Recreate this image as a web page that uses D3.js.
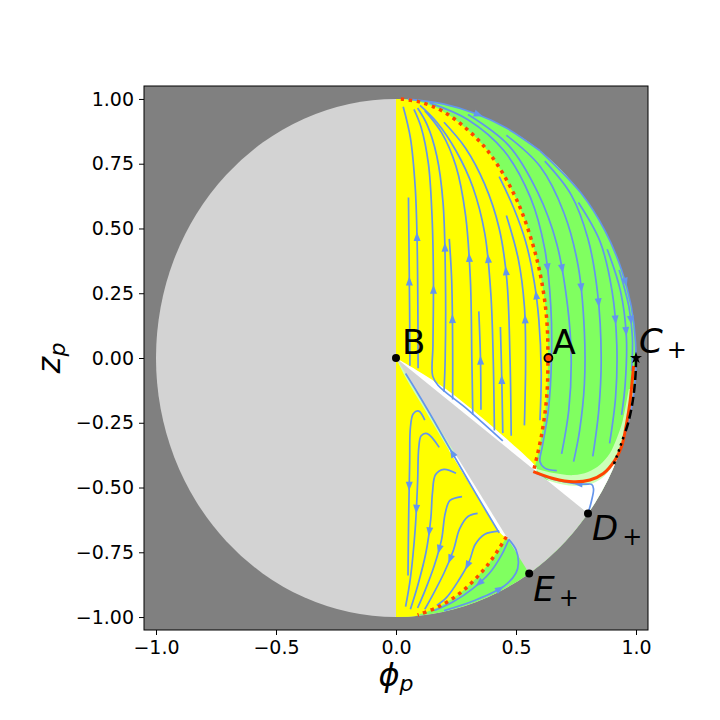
<!DOCTYPE html>
<html>
<head>
<meta charset="utf-8">
<script src="https://cdn.jsdelivr.net/npm/d3@7"></script>
<style>
  body { margin: 0; background: #fff; }
  svg { display: block; font-family: "DejaVu Sans", sans-serif; }
</style>
</head>
<body>
<svg id="chart" width="720" height="720"></svg>
<script>
// ---- data (phi_p, z_p) ----
var xTicks = [-1.0, -0.5, 0.0, 0.5, 1.0];
var yTicks = [-1.0, -0.75, -0.5, -0.25, 0.0, 0.25, 0.5, 0.75, 1.0];

var pointNames = ["B", "A", "C", "D", "E"];
var pointSubs = ["", "", "+", "+", "+"];
var pointPhi = [0.0, 0.635, 1.0, 0.8, 0.555];
var pointZ = [0.0, 0.0, 0.0, -0.6, -0.832];

// separatrix through A (red dotted), upper and lower visible parts
var sepUpper = [[0.02, 1.0], [0.1, 0.988], [0.2, 0.95], [0.334, 0.85], [0.42, 0.75], [0.508, 0.6],
  [0.572, 0.432], [0.606, 0.3], [0.628, 0.15], [0.633, 0.0], [0.628, -0.15], [0.606, -0.3], [0.572, -0.44]];
var sepLower = [[0.46, -0.69], [0.381, -0.8], [0.277, -0.9], [0.178, -0.96], [0.09, -0.992]];

// orbit from C+ (solid red) and the black dashed / dotted curves
var redOrbit = [[0.99, -0.03], [0.985, -0.08], [0.975, -0.17], [0.961, -0.252], [0.94, -0.342],
  [0.9125, -0.394], [0.864, -0.446], [0.808, -0.471], [0.739, -0.478], [0.655, -0.465], [0.572, -0.439]];
var blackDashed = [[1.0, 0.0], [0.999, -0.05], [0.993, -0.12], [0.982, -0.19], [0.966, -0.255], [0.952, -0.295]];
var blackDotted = [[0.948, -0.305], [0.935, -0.34], [0.92, -0.38], [0.906, -0.415]];

// region borders
var lightBandTop = [[0.575, -0.425], [0.65, -0.443], [0.74, -0.452], [0.8, -0.44], [0.85, -0.412],
  [0.89, -0.37], [0.92, -0.31], [0.945, -0.24], [0.97, -0.12]];
var whiteTop = [[0.57, -0.447], [0.65, -0.478], [0.72, -0.492], [0.8, -0.49], [0.86, -0.462],
  [0.9, -0.42], [0.93, -0.37], [0.96, -0.3]];
var upperSliver = [[0, 0], [0.083, -0.045], [0.208, -0.12], [0.347, -0.222], [0.458, -0.31],
  [0.556, -0.392], [0.585, -0.422]];
var lowerSliver = [[0, 0], [0.04, -0.075], [0.12, -0.2], [0.22, -0.355], [0.33, -0.52], [0.44, -0.68], [0.47, -0.7]];

// streamlines, points listed in flow direction
var streamsYellowUp = [
  [[0.058, -0.03], [0.057, 0.15], [0.055, 0.35], [0.052, 0.62]],
  [[0.092, -0.04], [0.091, 0.2], [0.088, 0.45], [0.08, 0.66], [0.06, 0.85], [0.03, 0.97]],
  [[0.445, -0.32], [0.3, -0.2], [0.175, -0.105], [0.153, -0.07], [0.154, 0.05], [0.156, 0.3],
    [0.15, 0.55], [0.135, 0.75], [0.105, 0.89], [0.075, 0.96]],
  [[0.2, -0.13], [0.205, 0.0], [0.206, 0.3], [0.196, 0.6], [0.17, 0.78], [0.13, 0.9], [0.09, 0.965]],
  [[0.236, -0.16], [0.236, 0.05], [0.232, 0.3], [0.222, 0.46]],
  [[0.32, -0.22], [0.316, 0.0], [0.31, 0.3], [0.29, 0.55], [0.25, 0.74], [0.19, 0.87], [0.12, 0.955]],
  [[0.354, -0.2], [0.352, 0.0], [0.345, 0.18]],
  [[0.41, -0.28], [0.405, 0.0], [0.395, 0.25], [0.37, 0.48], [0.32, 0.66], [0.25, 0.8], [0.17, 0.91], [0.1, 0.975]],
  [[0.445, -0.29], [0.44, -0.05], [0.435, 0.12]],
  [[0.48, -0.3], [0.475, 0.0], [0.462, 0.3], [0.43, 0.5], [0.37, 0.67], [0.29, 0.81], [0.2, 0.91]],
  [[0.535, -0.26], [0.54, 0.0], [0.535, 0.2], [0.51, 0.38], [0.46, 0.55]],
  [[0.6, -0.24], [0.605, -0.05], [0.595, 0.15], [0.575, 0.3], [0.54, 0.45], [0.49, 0.58], [0.43, 0.7]]
];
var streamsGreenDown = [
  [[0.05, 0.999], [0.2, 0.98], [0.33, 0.944], [0.46, 0.888], [0.6, 0.8]],
  [[0.6, 0.8], [0.77, 0.638], [0.87, 0.493], [0.94, 0.34], [0.98, 0.2], [0.998, 0.06], [0.995, -0.1],
    [0.975, -0.22], [0.95, -0.31]],
  [[0.14, 0.985], [0.3, 0.92], [0.45, 0.8], [0.56, 0.62], [0.62, 0.42], [0.645, 0.2], [0.648, 0.0],
    [0.635, -0.2], [0.61, -0.34], [0.6, -0.4], [0.62, -0.425], [0.67, -0.435]],
  [[0.3, 0.94], [0.47, 0.82], [0.59, 0.64], [0.67, 0.44], [0.715, 0.2], [0.73, 0.0], [0.72, -0.2], [0.69, -0.37]],
  [[0.46, 0.86], [0.6, 0.74], [0.7, 0.56], [0.76, 0.35], [0.785, 0.1], [0.785, -0.1], [0.765, -0.28], [0.74, -0.4]],
  [[0.62, 0.76], [0.73, 0.63], [0.8, 0.46], [0.84, 0.25], [0.855, 0.0], [0.845, -0.2], [0.82, -0.38]],
  [[0.76, 0.6], [0.85, 0.45], [0.9, 0.26], [0.92, 0.05], [0.915, -0.15], [0.89, -0.33]],
  [[0.88, 0.42], [0.935, 0.26], [0.96, 0.08], [0.955, -0.1], [0.94, -0.22]],
  [[0.93, 0.34], [0.97, 0.2], [0.985, 0.08], [0.982, -0.05]],
  [[0.8, -0.6], [0.815, -0.55], [0.823, -0.505], [0.815, -0.488], [0.79, -0.487], [0.74, -0.484],
    [0.68, -0.474], [0.62, -0.458], [0.585, -0.445]]
];
var streamsLower = [
  [[0.12, -0.24], [0.095, -0.205], [0.072, -0.215], [0.06, -0.27], [0.057, -0.4], [0.053, -0.6], [0.05, -0.84]],
  [[0.18, -0.345], [0.13, -0.292], [0.105, -0.3], [0.095, -0.345], [0.09, -0.48], [0.08, -0.66], [0.06, -0.85], [0.04, -0.96]],
  [[0.25, -0.445], [0.2, -0.43], [0.165, -0.45], [0.152, -0.52], [0.145, -0.62], [0.125, -0.75], [0.09, -0.88], [0.06, -0.97]],
  [[0.275, -0.535], [0.225, -0.55], [0.205, -0.6], [0.19, -0.7], [0.16, -0.8], [0.12, -0.9], [0.09, -0.965]],
  [[0.34, -0.6], [0.3, -0.612], [0.265, -0.66], [0.24, -0.74], [0.2, -0.83], [0.15, -0.92], [0.12, -0.97]],
  [[0.43, -0.668], [0.37, -0.68], [0.33, -0.72], [0.305, -0.786], [0.26, -0.86], [0.21, -0.925], [0.17, -0.955]],
  [[0.43, -0.675], [0.34, -0.535], [0.246, -0.385], [0.16, -0.245], [0.09, -0.135], [0.04, -0.06]],
  [[0.47, -0.7], [0.44, -0.76], [0.39, -0.83], [0.32, -0.89], [0.24, -0.94], [0.16, -0.975]],
  [[0.2, -0.975], [0.33, -0.935], [0.451, -0.88], [0.5, -0.83], [0.51, -0.79], [0.5, -0.74], [0.47, -0.7]]
];

// ---- colours ----
var colDark = "#808080", colLight = "#d3d3d3", colYellow = "#ffff00", colGreen = "#80ff60",
  colPale = "#ccffb8", colStream = "#6495ed", colRed = "#ff4500";

var svg = d3.select("#chart");
var x = d3.scaleLinear().domain([-1.05, 1.05]).range([144, 648]);
var y = d3.scaleLinear().domain([-1.05, 1.05]).range([630, 86]);
var rx = x(1) - x(0), ry = y(0) - y(1);

var line = d3.line()
  .x(function(d) { return x(d[0]); })
  .y(function(d) { return y(d[1]); })
  .curve(d3.curveCatmullRom.alpha(0.5));

function xy(p, q) { return x(p) + "," + y(q); }

var halfDisk = "M" + xy(0, 1) + "A" + rx + "," + ry + " 0 0 1 " + xy(0, -1) + "Z";

svg.append("defs").append("clipPath").attr("id", "rightDisk")
  .append("path").attr("d", halfDisk);

// background
svg.append("rect").attr("x", 144).attr("y", 86).attr("width", 504).attr("height", 544).attr("fill", colDark);
svg.append("ellipse").attr("cx", x(0)).attr("cy", y(0)).attr("rx", rx).attr("ry", ry).attr("fill", colLight);

var regions = svg.append("g").attr("clip-path", "url(#rightDisk)");
regions.append("path").attr("d", halfDisk).attr("fill", colGreen);

var sepAll = sepUpper.concat(sepLower);
regions.append("path")
  .attr("d", "M" + xy(0, 1.05) + "L" + line(sepAll).slice(1) + "L" + xy(0, -1.05) + "Z")
  .attr("fill", colYellow);

var D = [pointPhi[3], pointZ[3]], E = [pointPhi[4], pointZ[4]];
var lastB = lightBandTop[lightBandTop.length - 1], lastW = whiteTop[whiteTop.length - 1];
regions.append("path")
  .attr("d", line(lightBandTop) + "L" + xy(1.2, lastB[1]) + "L" + xy(1.2, -1.2) + "L" + xy(D[0], D[1]) + "Z")
  .attr("fill", colPale);
regions.append("path")
  .attr("d", line(whiteTop) + "L" + xy(1.2, lastW[1]) + "L" + xy(1.2, -1.2) + "L" + xy(D[0], D[1]) + "Z")
  .attr("fill", "#ffffff");

// thin slivers along the edges of the wedge
regions.append("path")
  .attr("d", line(upperSliver) + "L" + xy(0.59, -0.5) + "Z").attr("fill", "#ffffff");
regions.append("path")
  .attr("d", line(lowerSliver) + "L" + xy(0.6, -0.7) + "Z").attr("fill", colPale);
regions.append("path")
  .attr("d", line(lowerSliver.slice(3)) + "L" + xy(0.6, -0.7) + "L" + xy(0.3, -0.4) + "Z").attr("fill", "#ffffff");

// excluded wedge between B, D+ and E+
regions.append("path")
  .attr("d", "M" + xy(0, 0) + "L" + xy(D[0], D[1]) + "A" + rx + "," + ry + " 0 0 1 " + xy(E[0], E[1]) + "Z")
  .attr("fill", colLight);

// streamlines with mid arrows
var streams = svg.append("g");
var allStreams = streamsYellowUp.concat(streamsGreenDown, streamsLower);
allStreams.forEach(function(s) {
  var p = streams.append("path").attr("d", line(s))
    .attr("fill", "none").attr("stroke", colStream).attr("stroke-width", 1.7);
  var node = p.node(), L = node.getTotalLength();
  var a = node.getPointAtLength(L * 0.5), b = node.getPointAtLength(Math.max(0, L * 0.5 - 2));
  var ang = Math.atan2(a.y - b.y, a.x - b.x) * 180 / Math.PI;
  streams.append("path").attr("d", "M5,0L-4,-3.5L-4,3.5Z")
    .attr("transform", "translate(" + a.x + "," + a.y + ") rotate(" + ang + ")")
    .attr("fill", colStream);
});

// separatrix, orbits
[sepUpper, sepLower].forEach(function(s) {
  svg.append("path").attr("d", line(s)).attr("fill", "none")
    .attr("stroke", colRed).attr("stroke-width", 3.5).attr("stroke-dasharray", "3.5,4.5");
});
svg.append("path").attr("d", line(redOrbit)).attr("fill", "none")
  .attr("stroke", colRed).attr("stroke-width", 3);
svg.append("path").attr("d", line(blackDashed)).attr("fill", "none")
  .attr("stroke", "#000").attr("stroke-width", 2.5).attr("stroke-dasharray", "9,4");
svg.append("path").attr("d", line(blackDotted)).attr("fill", "none")
  .attr("stroke", "#000").attr("stroke-width", 2.5).attr("stroke-dasharray", "2.5,4");

// fixed points
var labelOffset = { B: [6, -4], A: [4, -4], C: [3, -5], D: [4, 27], E: [4, 27] };
pointNames.forEach(function(n, i) {
  var px = x(pointPhi[i]), py = y(pointZ[i]);
  if (n === "A") {
    svg.append("circle").attr("cx", px).attr("cy", py).attr("r", 4)
      .attr("fill", colRed).attr("stroke", "#000").attr("stroke-width", 1.8);
  } else if (n === "C") {
    svg.append("path").attr("d", d3.symbol().type(d3.symbolStar).size(45))
      .attr("transform", "translate(" + px + "," + py + ")").attr("fill", "#000");
  } else {
    svg.append("circle").attr("cx", px).attr("cy", py).attr("r", 4).attr("fill", "#000");
  }
  var off = labelOffset[n];
  var t = svg.append("text").attr("x", px + off[0]).attr("y", py + off[1])
    .attr("font-size", 34).attr("fill", "#000");
  t.append("tspan").attr("font-style", pointSubs[i] ? "italic" : "normal").text(n);
  if (pointSubs[i]) {
    t.append("tspan").attr("font-size", 24).attr("dx", 4).attr("dy", 5).text(pointSubs[i]);
  }
});

// axes
svg.append("rect").attr("x", 144).attr("y", 86).attr("width", 504).attr("height", 544)
  .attr("fill", "none").attr("stroke", "#000").attr("stroke-width", 1);

var fmtMinus = function(s) { return s.replace("-", "\u2212"); };
var xAxis = svg.append("g").attr("transform", "translate(0,630)")
  .call(d3.axisBottom(x).tickValues(xTicks).tickSize(5).tickPadding(6)
    .tickFormat(function(d) { return fmtMinus(d3.format(".1f")(d)); }));
var yAxis = svg.append("g").attr("transform", "translate(144,0)")
  .call(d3.axisLeft(y).tickValues(yTicks).tickSize(5).tickPadding(5)
    .tickFormat(function(d) { return fmtMinus(d3.format(".2f")(d)); }));
[xAxis, yAxis].forEach(function(ax) {
  ax.select(".domain").remove();
  ax.selectAll("text").attr("font-size", 19).attr("font-family", "DejaVu Sans").attr("fill", "#000");
  ax.selectAll("line").attr("stroke", "#000");
});

var xl = svg.append("text").attr("x", 396).attr("y", 686).attr("text-anchor", "middle")
  .attr("font-size", 32).attr("fill", "#000");
xl.append("tspan").attr("font-style", "italic").text("\u03d5");
xl.append("tspan").attr("font-style", "italic").attr("font-size", 22).attr("dy", 5).text("p");

var yl = svg.append("text").attr("transform", "translate(60,358) rotate(-90)").attr("text-anchor", "middle")
  .attr("font-size", 32).attr("fill", "#000");
yl.append("tspan").attr("font-style", "italic").text("z");
yl.append("tspan").attr("font-style", "italic").attr("font-size", 22).attr("dy", 5).text("p");
</script>
</body>
</html>
